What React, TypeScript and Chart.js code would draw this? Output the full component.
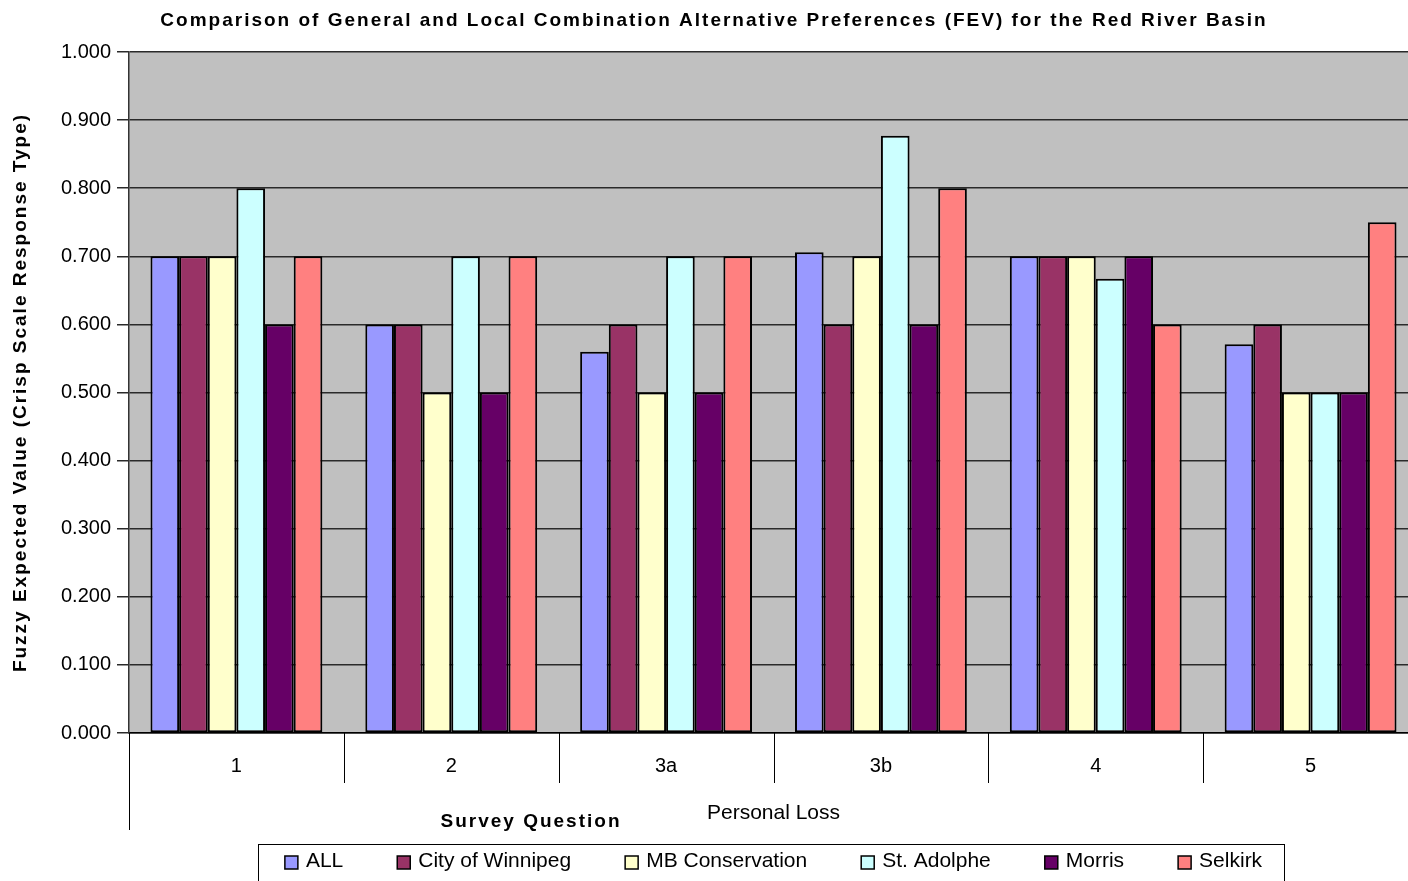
import React, { useEffect, useRef } from 'react';
import { Chart, registerables } from 'chart.js';

Chart.register(...registerables);

const categories = ['1', '2', '3a', '3b', '4', '5'];
const seriesNames = ['ALL', 'City of Winnipeg', 'MB Conservation', 'St. Adolphe', 'Morris', 'Selkirk'];
const allValues = [0.7, 0.6, 0.56, 0.706, 0.7, 0.571];
const winnipegValues = [0.7, 0.6, 0.6, 0.6, 0.7, 0.6];
const mbConservationValues = [0.7, 0.5, 0.5, 0.7, 0.7, 0.5];
const stAdolpheValues = [0.8, 0.7, 0.7, 0.877, 0.667, 0.5];
const morrisValues = [0.6, 0.5, 0.5, 0.6, 0.7, 0.5];
const selkirkValues = [0.7, 0.7, 0.7, 0.8, 0.6, 0.75];
const seriesColors = ['#9999FF', '#993366', '#FFFFCC', '#CCFFFF', '#660066', '#FF8080'];

const yMin = 0;
const yMax = 1;
const yStep = 0.1;

const chartTitle = 'Comparison of General and Local Combination Alternative Preferences (FEV) for the Red River Basin';
const yAxisTitle = 'Fuzzy Expected Value (Crisp Scale Response Type)';
const xAxisTitle = 'Survey Question';
const groupLabel = 'Personal Loss';

const FONT = '"Liberation Sans", Arial, sans-serif';

const decorPlugin = {
  id: 'decor',
  beforeDraw(chart: any) {
    const { ctx, chartArea: ca } = chart;
    ctx.save();
    ctx.fillStyle = '#ffffff';
    ctx.fillRect(0, 0, chart.width, chart.height);
    ctx.fillStyle = '#C0C0C0';
    ctx.fillRect(ca.left, ca.top, ca.right - ca.left, ca.bottom - ca.top);
    ctx.restore();
  },
  afterDraw(chart: any) {
    const { ctx, chartArea: ca } = chart;
    const x = chart.scales.x;
    ctx.save();
    // category separators
    ctx.strokeStyle = '#000';
    ctx.lineWidth = 1;
    const n = x.ticks.length;
    for (let i = 0; i <= n; i++) {
      let px;
      if (i === 0) px = ca.left;
      else if (i === n) px = ca.right;
      else px = (x.getPixelForTick(i - 1) + x.getPixelForTick(i)) / 2;
      px = Math.round(px) + 0.5;
      ctx.beginPath();
      ctx.moveTo(px, ca.bottom);
      ctx.lineTo(px, ca.bottom + (i === 0 ? 97 : 50));
      ctx.stroke();
    }

    // group label
    ctx.fillStyle = '#000';
    ctx.font = `21px ${FONT}`;
    ctx.textAlign = 'center';
    ctx.textBaseline = 'middle';
    ctx.fillText(groupLabel, (ca.left + ca.right) / 2, ca.bottom + 80);

    // bold titles with letter spacing
    ctx.font = `bold 19px ${FONT}`;
    (ctx as any).letterSpacing = '2px';
    ctx.fillText(chartTitle, 714, 21);
    ctx.fillText(xAxisTitle, 531, ca.bottom + 89);
    ctx.save();
    ctx.translate(21, (ca.top + ca.bottom) / 2);
    ctx.rotate(-Math.PI / 2);
    ctx.fillText(yAxisTitle, 0, 0);
    ctx.restore();
    (ctx as any).letterSpacing = '0px';

    // legend
    ctx.font = `21px ${FONT}`;
    const boxSize = 13;
    const boxGap = 8;
    const itemGap = 54;
    const widths = chart.data.datasets.map((d: any) => boxSize + boxGap + ctx.measureText(d.label).width);
    const total = widths.reduce((a: number, b: number) => a + b, 0) + itemGap * (widths.length - 1);
    const cx = (ca.left + ca.right) / 2;
    let lx = cx - total / 2;
    const startX = lx;
    const rowY = 861;
    ctx.strokeStyle = '#000';
    ctx.lineWidth = 1;
    ctx.strokeRect(Math.round(startX - 27) + 0.5, 844.5, Math.round(total + 49), 60);
    ctx.textAlign = 'left';
    chart.data.datasets.forEach((d: any, i: number) => {
      ctx.fillStyle = d.backgroundColor;
      ctx.fillRect(lx, rowY - 5, boxSize, boxSize);
      ctx.lineWidth = 1.5;
      ctx.strokeStyle = '#000';
      ctx.strokeRect(lx, rowY - 5, boxSize, boxSize);
      ctx.fillStyle = '#000';
      ctx.fillText(d.label, lx + boxSize + boxGap, rowY);
      lx += widths[i] + itemGap;
    });
    ctx.restore();
  },
};

export default function App() {
  const canvasRef = useRef<HTMLCanvasElement | null>(null);

  useEffect(() => {
    if (!canvasRef.current) return;
    const valueSets = [allValues, winnipegValues, mbConservationValues, stAdolpheValues, morrisValues, selkirkValues];
    const chart = new Chart(canvasRef.current, {
      type: 'bar',
      data: {
        labels: categories,
        datasets: seriesNames.map((name, i) => ({
          label: name,
          data: valueSets[i],
          backgroundColor: seriesColors[i],
          borderColor: '#000000',
          borderWidth: 2,
          borderSkipped: false,
          categoryPercentage: 0.8,
          barPercentage: 1,
        })),
      },
      options: {
        animation: false,
        responsive: false,
        devicePixelRatio: 1,
        layout: { padding: { top: 52, left: 0, right: 2, bottom: 0 } },
        plugins: {
          legend: { display: false },
          title: { display: false },
          tooltip: { enabled: false },
        },
        scales: {
          x: {
            type: 'category',
            grid: { display: false },
            border: { display: true, color: '#000', width: 1.5 },
            ticks: { color: '#000', font: { family: FONT, size: 20 }, padding: 13, maxRotation: 0 },
            afterFit: (s: any) => { s.height = 148; },
          },
          y: {
            min: yMin,
            max: yMax,
            ticks: {
              stepSize: yStep,
              color: '#000',
              font: { family: FONT, size: 20 },
              padding: 6,
              callback: (v: any) => Number(v).toFixed(3),
            },
            grid: { color: '#2a2a2a', lineWidth: 1.5, tickLength: 12, tickColor: '#2a2a2a' },
            border: { display: true, color: '#333', width: 1.5 },
            afterFit: (s: any) => { s.width = 129; },
          },
        },
      },
      plugins: [decorPlugin],
    });
    return () => chart.destroy();
  }, []);

  return (
    <div style={{ position: 'fixed', left: 0, top: 0, width: 1408, height: 881, overflow: 'hidden', background: '#fff' }}>
      <canvas ref={canvasRef} width={1420} height={881} style={{ width: 1420, height: 881, display: 'block' }} />
    </div>
  );
}
